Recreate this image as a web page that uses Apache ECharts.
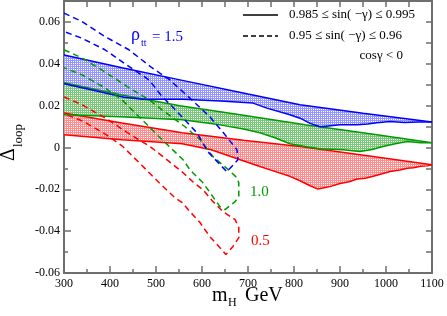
<!DOCTYPE html>
<html><head><meta charset="utf-8">
<script src="https://cdn.jsdelivr.net/npm/echarts@6/dist/echarts.min.js"></script>
<style>html,body{margin:0;padding:0;background:#fff}#c{width:447px;height:316px}</style>
</head><body><div id="c"></div>
<script>
// ---- data ----
const xTickLabels = ['300','400','500','600','700','800','900','1000','1100'];
const yTickLabels = ['-0.06','-0.04','-0.02','0','0.02','0.04','0.06'];

const blueUpper = [[300,0.0442],[426,0.0381],[552,0.0323],[700,0.0255],[813,0.0204],[950,0.0163],[1100,0.0122]];
const blueLower = [[300,0.0305],[378,0.0266],[430,0.0240],[470,0.0231],[557,0.0231],[640,0.0222],[711,0.0212],[741,0.0188],[791,0.0156],[813,0.0140],[835,0.0115],[857,0.0099],[875,0.0103],[900,0.0108],[937,0.0108],[960,0.0112],[980,0.0118],[1009,0.0124],[1040,0.0119],[1070,0.0122],[1100,0.0122]];
const greenUpper = [[300,0.0309],[426,0.0251],[552,0.0199],[683,0.0156],[824,0.0108],[965,0.0065],[1100,0.0022]];
const greenLower = [[300,0.0156],[422,0.0147],[557,0.0132],[639,0.0108],[690,0.0088],[726,0.0070],[760,0.0045],[791,0.0018],[830,0.0002],[857,-0.0006],[907,-0.0011],[943,-0.0019],[970,-0.0010],[993,0.0005],[1020,0.0018],[1046,0.0029],[1075,0.0022],[1100,0.0022]];
const redUpper = [[300,0.0165],[426,0.0117],[557,0.0070],[690,0.0034],[813,0.0005],[960,-0.0040],[1100,-0.0083]];
const redLower = [[300,0.0061],[426,0.0037],[557,0.0018],[620,-0.0011],[683,-0.0059],[726,-0.0091],[748,-0.0107],[791,-0.0138],[813,-0.0159],[835,-0.0183],[852,-0.0199],[863,-0.0194],[880,-0.0186],[900,-0.0172],[920,-0.0164],[937,-0.0151],[955,-0.0147],[972,-0.0138],[990,-0.0127],[1009,-0.0115],[1030,-0.0108],[1046,-0.0099],[1060,-0.0097],[1075,-0.0090],[1090,-0.0088],[1100,-0.0083]];

const blueDashed = [[300,0.0642],[339,0.0602],[389,0.0530],[441,0.0467],[491,0.0381],[530,0.0323],[574,0.0235],[617,0.0147],[650,0.0061],[676,-0.0011],[678,-0.0059],[654,-0.0116],[613,-0.0021],[589,0.0070],[535,0.0196],[513,0.0244],[485,0.0323],[441,0.0387],[389,0.0467],[339,0.0522],[300,0.0554]];
const greenDashed = [[300,0.0467],[339,0.0428],[389,0.0361],[448,0.0276],[485,0.0228],[513,0.0180],[563,0.0099],[596,0.0037],[624,-0.0044],[657,-0.0106],[676,-0.0145],[680,-0.0169],[680,-0.0235],[672,-0.0259],[650,-0.0297],[639,-0.0283],[613,-0.0202],[602,-0.0169],[574,-0.0107],[559,-0.0059],[541,-0.0021],[507,0.0051],[470,0.0132],[426,0.0228],[389,0.0285],[339,0.0347],[300,0.0381]];
const redDashed = [[300,0.0242],[339,0.0204],[389,0.0142],[448,0.0056],[485,0.0008],[513,-0.0040],[559,-0.0121],[580,-0.0164],[602,-0.0202],[624,-0.0259],[646,-0.0307],[672,-0.0345],[680,-0.0383],[680,-0.0431],[667,-0.0474],[652,-0.0512],[639,-0.0479],[617,-0.0426],[596,-0.0360],[574,-0.0307],[557,-0.0264],[541,-0.0240],[507,-0.0169],[470,-0.0087],[426,0.0008],[389,0.0065],[339,0.0128],[300,0.0161]];

// ---- styling ----
const BLUE = '#0000ff', GREEN = '#009a00', RED = '#ff0000';
const SERIF = '"Liberation Serif", "DejaVu Serif", serif';
const AXC = '#6e6e6e';

function makePattern(rgb) {
  const c = document.createElement('canvas');
  c.width = 2; c.height = 2;
  const g = c.getContext('2d');
  g.fillStyle = '#ffffff'; g.fillRect(0, 0, 2, 2);
  g.fillStyle = rgb; g.fillRect(0, 0, 2, 1); g.fillRect(0, 1, 1, 1);
  return { image: c, repeat: 'repeat' };
}

function bandSeries(upper, lower, fill) {
  const poly = upper.concat(lower.slice().reverse());
  return {
    type: 'custom', silent: true, z: 1, clip: true,
    data: [poly[0]],
    renderItem: function (params, api) {
      const pts = poly.map(p => api.coord(p));
      return { type: 'polygon', shape: { points: pts }, style: { fill: fill, stroke: null } };
    }
  };
}
function lineSeries(data, color, dashed) {
  return {
    type: 'line', data: data, showSymbol: false, symbol: 'none', z: 3, silent: true,
    lineStyle: { color: color, width: 1.5, type: dashed ? [6, 4] : 'solid' }
  };
}
function txt(x, y, text, size, color, align) {
  return { type: 'text', x: x, y: y, style: { text: text, font: size + 'px ' + SERIF, fill: color, align: align || 'left', verticalAlign: 'middle' } };
}

const yLabelMap = {};
yTickLabels.forEach(l => { yLabelMap[(+l).toFixed(2)] = l; });

const chart = echarts.init(document.getElementById('c'), null, { renderer: 'canvas' });
const tickStyle = { color: AXC, width: 1.5 };
chart.setOption({
  animation: false,
  backgroundColor: '#fff',
  grid: { left: 64, right: 15, top: 1, bottom: 43 },
  xAxis: [{
    type: 'value', min: 300, max: 1100, interval: 100, position: 'bottom',
    axisLine: { onZero: false, lineStyle: { color: AXC, width: 2 } },
    axisTick: { inside: true, length: 7, lineStyle: tickStyle },
    minorTick: { show: true, splitNumber: 2, length: 4, lineStyle: tickStyle },
    splitLine: { show: false },
    axisLabel: { margin: 5, color: '#000', fontFamily: SERIF, fontSize: 12,
      formatter: v => xTickLabels[Math.round((v - 300) / 100)] }
  }, {
    type: 'value', min: 300, max: 1100, interval: 50, position: 'top',
    axisLine: { onZero: false, lineStyle: { color: AXC, width: 2 } },
    axisTick: { inside: true, length: 6, lineStyle: tickStyle },
    splitLine: { show: false }, axisLabel: { show: false }
  }],
  yAxis: [{
    type: 'value', min: -0.06, max: 0.07, interval: 0.02, position: 'left',
    axisLine: { onZero: false, lineStyle: { color: AXC, width: 2 } },
    axisTick: { inside: true, length: 7, lineStyle: tickStyle },
    minorTick: { show: true, splitNumber: 2, length: 4, lineStyle: tickStyle },
    splitLine: { show: false },
    axisLabel: { margin: 4, color: '#000', fontFamily: SERIF, fontSize: 12,
      formatter: v => yLabelMap[(Math.abs(v) < 1e-9 ? 0 : v).toFixed(2)] || '' }
  }, {
    type: 'value', min: -0.06, max: 0.07, interval: 0.01, position: 'right',
    axisLine: { onZero: false, lineStyle: { color: AXC, width: 2 } },
    axisTick: { inside: true, length: 6, lineStyle: tickStyle },
    splitLine: { show: false }, axisLabel: { show: false }
  }],
  series: [
    bandSeries(redUpper, redLower, makePattern('rgb(255,140,140)')),
    bandSeries(greenUpper, greenLower, makePattern('rgb(120,200,120)')),
    bandSeries(blueUpper, blueLower, makePattern('rgb(150,150,255)')),
    lineSeries(redUpper, RED), lineSeries(redLower, RED),
    lineSeries(greenUpper, GREEN), lineSeries(greenLower, GREEN),
    lineSeries(blueUpper, BLUE), lineSeries(blueLower, BLUE),
    lineSeries(redDashed, RED, true),
    lineSeries(greenDashed, GREEN, true),
    lineSeries(blueDashed, BLUE, true)
  ],
  graphic: [
    // legend
    { type: 'line', shape: { x1: 243, y1: 15, x2: 278, y2: 15 }, style: { stroke: '#000', lineWidth: 1.3 } },
    { type: 'line', shape: { x1: 243, y1: 36, x2: 278, y2: 36 }, style: { stroke: '#000', lineWidth: 1.3, lineDash: [5, 3] } },
    txt(289, 15, '0.985 \u2264 sin( \u2212\u03b3) \u2264 0.995', 13, '#000'),
    txt(289, 36, '0.95 \u2264 sin( \u2212\u03b3) \u2264 0.96', 13, '#000'),
    txt(403, 56, 'cos\u03b3 < 0', 13, '#000', 'right'),
    // annotations
    txt(131, 35, '\u03c1', 18, BLUE),
    txt(141, 43, 'tt', 10, BLUE),
    txt(152, 37, '= 1.5', 15, BLUE),
    txt(250, 192, '1.0', 15, GREEN),
    txt(251, 241, '0.5', 15, RED),
    // x axis title
    txt(212, 295.5, 'm', 20, '#000'),
    txt(228, 303, 'H', 12, '#000'),
    txt(245, 295.5, 'GeV', 20, '#000'),
    // y axis title (rotated)
    { type: 'group', x: 9, y: 161, rotation: Math.PI / 2, children: [
      { type: 'text', x: 0, y: 0, style: { text: '\u0394', font: '20px ' + SERIF, fill: '#000', align: 'left', verticalAlign: 'middle' } },
      { type: 'text', x: 14, y: 10, style: { text: 'loop', font: '13px ' + SERIF, fill: '#000', align: 'left', verticalAlign: 'middle' } }
    ] }
  ]
});
</script>
</body></html>
